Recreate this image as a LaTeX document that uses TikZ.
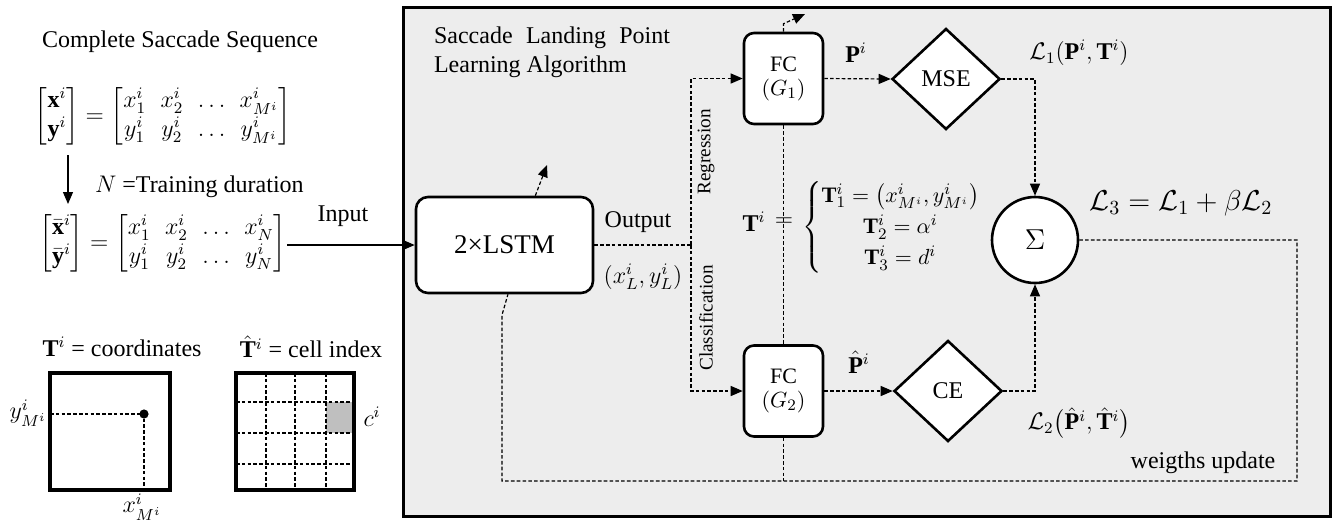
\documentclass[tikz,border=0pt]{standalone}
\usepackage{amsmath}
\usepackage{fontspec}
\setmainfont{Liberation Serif}
\usetikzlibrary{arrows.meta,shapes.geometric}
\begin{document}
\begin{tikzpicture}[x=0.5pt,y=-0.5pt,
  font=\fontsize{12pt}{14.5pt}\selectfont,
  conn/.style={line width=0.6pt, dash pattern=on 1.8pt off 1.1pt},
  tip/.style={-{Triangle[length=6pt,width=5pt]}},
  solidarrow/.style={line width=0.6pt, -{Triangle[length=6pt,width=5pt]}},
  block/.style={draw, line width=1.3pt, fill=white, align=center, inner sep=0pt},
  lossnode/.style={draw, line width=1.3pt, fill=white, diamond, minimum width=54pt,
    minimum height=50.5pt, inner sep=0pt},
  rotlbl/.style={rotate=90, font=\fontsize{9.6pt}{11pt}\selectfont},
  frame/.style={line width=1.6pt},
]
\useasboundingbox (0,0) rectangle (1338,527);

% ---------- left column: sequences ----------
\node (title) at (180,42) {Complete Saccade Sequence};
\node[inner sep=0pt] (mat1) at (163,116) {\setlength{\arraycolsep}{3.6pt}%
  $\begin{bmatrix}\mathbf{x}^i\\ \mathbf{y}^i\end{bmatrix}
  =\begin{bmatrix}x_1^i & x_2^i & \ldots & x_{M^i}^i\\ y_1^i & y_2^i & \ldots & y_{M^i}^i\end{bmatrix}$};
\node[inner sep=0pt] (mat2) at (163,243) {\setlength{\arraycolsep}{3.6pt}%
  $\begin{bmatrix}\bar{\mathbf{x}}^i\\ \bar{\mathbf{y}}^i\end{bmatrix}
  =\begin{bmatrix}x_1^i & x_2^i & \ldots & x_N^i\\ y_1^i & y_2^i & \ldots & y_N^i\end{bmatrix}$};
\coordinate (cutTop) at (68,155);
\coordinate (cutBot) at (68,204);
\draw[solidarrow] (cutTop) -- (cutBot);
\node[anchor=west] (dur) at (88,187) {$N$ =Training duration};
\node (inlbl) at (343,216) {Input};

% ---------- left column: target encodings ----------
\node (tcoord) at (122,347) {$\mathbf{T}^i$ = coordinates};
\node (tcell) at (311,347) {$\hat{\mathbf{T}}^i$ = cell index};
\draw[conn] (50,414) -- (144,414) -- (144,490);
\fill (144,414) circle (2.3pt);
\draw[frame] (50,373) rectangle (170,490);
\node (ylab) at (28,413) {$y_{M^i}^i$};
\node (xlab) at (142,507) {$x_{M^i}^i$};

\fill[black!25] (326,402) rectangle (354,433);
\foreach \gx in {266,295,326} \draw[conn] (\gx,373) -- (\gx,490);
\foreach \gy in {402,433,464} \draw[conn] (236,\gy) -- (354,\gy);
\draw[frame] (236,373) rectangle (354,490);
\node (clab) at (372,417) {$c^i$};

% ---------- learning algorithm panel ----------
\draw[line width=1.5pt, fill=black!7] (403,7) rectangle (1330,516);
\node[anchor=west] (alg1) at (427,38) {\makebox[118pt][s]{Saccade Landing Point}};
\node[anchor=west] (alg2) at (427,67) {Learning Algorithm};

\node[block, rounded corners=6pt, minimum width=88.5pt, minimum height=48pt,
  font=\fontsize{13.5pt}{16pt}\selectfont] (lstm) at (504.5,245) {2×LSTM};
\node[block, rounded corners=5pt, minimum width=39.5pt, minimum height=45.5pt,
  font=\fontsize{11pt}{12pt}\selectfont] (fc1) at (783.5,78.5) {FC\\ $(G_1)$};
\node[block, rounded corners=5pt, minimum width=39.5pt, minimum height=45.5pt,
  font=\fontsize{11pt}{12pt}\selectfont] (fc2) at (783.5,391) {FC\\ $(G_2)$};
\node[lossnode] (mse) at (946,79) {MSE};
\node[lossnode] (ce) at (948,391) {CE};
\node[draw, circle, line width=1.3pt, fill=white, minimum size=43pt, inner sep=0pt,
  font=\fontsize{15pt}{17pt}\selectfont] (sum) at (1035,240) {$\Sigma$};

% forward paths
\coordinate (split) at (691,245);
\draw[conn] (lstm.east) -- (split);
\draw[conn,tip] (split) |- (fc1.west);
\draw[conn,tip] (split) |- (fc2.west);
\draw[conn,tip] (fc1.east) -- (mse.west);
\draw[conn,tip] (fc2.east) -- (ce.west);
\draw[conn,tip] (mse.east) -| (sum.north);
\draw[conn,tip] (ce.east) -| (sum.south);
\draw[conn] (fc1.south) -- (fc2.north);
\coordinate (inStart) at (287,245);
\draw[solidarrow] (inStart) -- (lstm.west);

% outgoing state arrows
\coordinate (lstmOut) at (547,165);
\draw[conn,tip] (lstm.58) -- (lstmOut);
\coordinate (fcOut) at (805,14);
\draw[conn,tip] (fc1.north) -- ++(0,-8) -- (fcOut);

% weight update loop
\coordinate (fbR) at (1297,240);
\coordinate (fbB) at (1297,481);
\coordinate (fbL) at (502,481);
\coordinate (fbK) at (502,315);
\draw[conn] (sum.east) -- (fbR) -- (fbB) -- (fbL) -- (fbK) -- (lstm.-86);
\draw[conn] (fc2.south) -- (fc2.south |- fbL);

% labels
\node (outlbl) at (638,222) {Output};
\node (outval) at (643,277) {$(x_L^i,y_L^i)$};
\node[rotlbl] (reg) at (706,152) {Regression};
\node[rotlbl] (cls) at (706,318) {Classification};
\node (plbl) at (856,53) {$\mathbf{P}^i$};
\node (phlbl) at (859,362) {$\hat{\mathbf{P}}^i$};
\node (l1) at (1079,53) {$\mathcal{L}_1(\mathbf{P}^i,\mathbf{T}^i)$};
\node[font=\fontsize{14pt}{16pt}\selectfont] (l3) at (1181,203)
  {$\mathcal{L}_3=\mathcal{L}_1+\beta\mathcal{L}_2$};
\node (l2) at (1079,423) {$\mathcal{L}_2\bigl(\hat{\mathbf{P}}^i,\hat{\mathbf{T}}^i\bigr)$};
\node (upd) at (1203,463) {weigths update};

% target definition
\node (tdef) at (754,222) {$\mathbf{T}^i$};
\node[inner sep=0pt] (teq) at (784,222) {$=$};
\node[anchor=west, inner sep=0pt, font=\fontsize{11pt}{13pt}\selectfont] (tcases) at (802,227)
  {$\renewcommand{\arraystretch}{1.2}\left\{\begin{array}{@{}c@{}}
    \mathbf{T}_1^i=\left(x_{M^i}^i,y_{M^i}^i\right)\\
    \mathbf{T}_2^i=\alpha^i\\
    \mathbf{T}_3^i=d^i\end{array}\right.$};
\end{tikzpicture}
\end{document}
